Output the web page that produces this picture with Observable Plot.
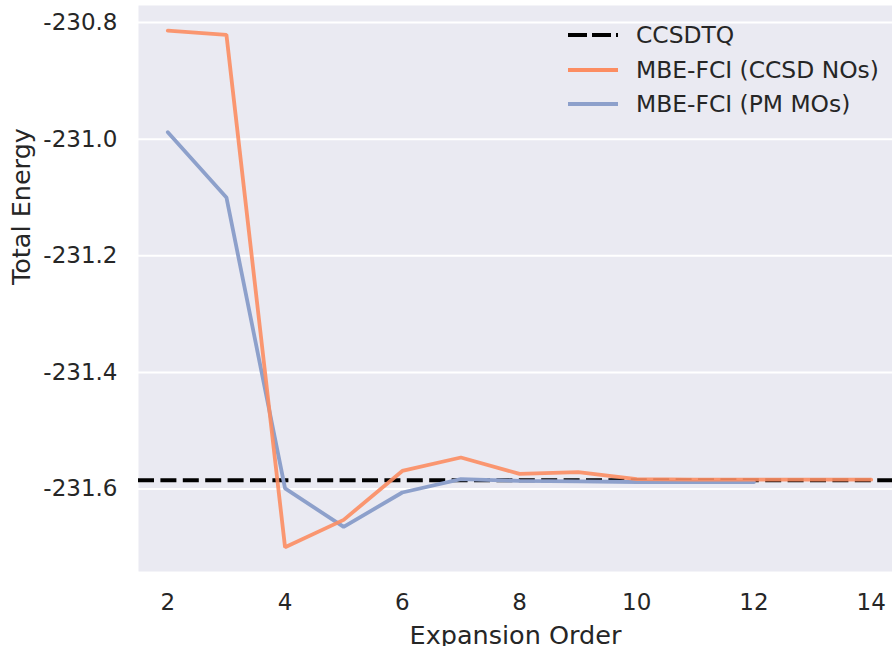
<!DOCTYPE html>
<html>
<head>
<meta charset="utf-8">
<script src="https://cdn.jsdelivr.net/npm/d3@7"></script>
<script src="https://cdn.jsdelivr.net/npm/@observablehq/plot@0.6"></script>
<style>
  html, body { margin: 0; padding: 0; background: #fff; }
  #wrap { position: relative; width: 892px; height: 646px; overflow: hidden; font-family: "DejaVu Sans", sans-serif; }
  #legend { position: absolute; left: 560px; top: 18px; color: #262626; font-size: 23.4px; }
  .row { position: absolute; left: 0; height: 34px; white-space: nowrap; }
  .row svg { position: absolute; left: 6px; top: 0; }
  .row span { position: absolute; left: 76px; top: 2px; line-height: 30px; }
</style>
</head>
<body>
<div id="wrap"></div>
<script>
const orders = [2, 3, 4, 5, 6, 7, 8, 9, 10, 11, 12, 13, 14];
const ccsdNOs = [-230.814, -230.821, -231.700, -231.653, -231.569, -231.546, -231.574, -231.571, -231.583, -231.584, -231.584, -231.584, -231.584];
const pmOrders = [2, 3, 4, 5, 6, 7, 8, 9, 10, 11, 12];
const pmMOs = [-230.988, -231.100, -231.599, -231.665, -231.606, -231.583, -231.586, -231.587, -231.588, -231.588, -231.588];
const ccsdtq = -231.585;
const yTicks = [-230.8, -231.0, -231.2, -231.4, -231.6];
const xTicks = [2, 4, 6, 8, 10, 12, 14];
const xLabel = "Expansion Order";
const yLabel = "Total Energy";

const seriesNames = ["CCSDTQ", "MBE-FCI (CCSD NOs)", "MBE-FCI (PM MOs)"];
const seriesColors = ["#000000", "#FC8D62", "#8DA0CB"];

const nosData = orders.map((o, i) => ({order: o, energy: ccsdNOs[i]}));
const pmData = pmOrders.map((o, i) => ({order: o, energy: pmMOs[i]}));

const chart = Plot.plot({
  width: 892,
  height: 646,
  marginLeft: 138,
  marginRight: 0,
  marginTop: 5,
  marginBottom: 75,
  style: {fontFamily: "DejaVu Sans", fontSize: "23px", color: "#262626", background: "#fff"},
  x: {domain: [1.5, 14.363]},
  y: {domain: [-231.7415, -230.7708]},
  marks: [
    Plot.frame({fill: "#EAEAF2", stroke: null}),
    Plot.ruleY(yTicks, {stroke: "#fff", strokeWidth: 2}),
    Plot.axisX({ticks: xTicks, tickSize: 0, tickPadding: 22, tickFormat: d => String(d), fontSize: 23, label: null, fill: "#262626"}),
    Plot.axisY({ticks: yTicks, tickSize: 0, tickPadding: 21, tickFormat: d => d.toFixed(1), fontSize: 23, label: null, fill: "#262626"}),
    Plot.text([xLabel], {text: d => d, frameAnchor: "bottom", lineAnchor: "middle", dy: 64.4, fontSize: 25.5, fill: "#262626"}),
    Plot.text([yLabel], {text: d => d, frameAnchor: "left", lineAnchor: "middle", rotate: -90, dx: -117, dy: -3.5, fontSize: 25.5, fill: "#262626"}),
    Plot.ruleY([ccsdtq], {stroke: seriesColors[0], strokeWidth: 4, strokeDasharray: "16,6.4"}),
    Plot.line(pmData, {x: "order", y: "energy", stroke: seriesColors[2], strokeWidth: 3.8, strokeLinejoin: "miter"}),
    Plot.line(nosData, {x: "order", y: "energy", stroke: seriesColors[1], strokeWidth: 3.8, strokeOpacity: 0.9, strokeLinejoin: "miter"})
  ]
});

const wrap = document.getElementById("wrap");
wrap.appendChild(chart);

const legend = document.createElement("div");
legend.id = "legend";
seriesNames.forEach((name, i) => {
  const row = document.createElement("div");
  row.className = "row";
  row.style.top = (i * 34.5) + "px";
  const dash = i === 0 ? 'stroke-dasharray="19,5"' : '';
  row.innerHTML = `<svg width="60" height="34"><line x1="2" y1="17" x2="52" y2="17" stroke="${seriesColors[i]}" stroke-width="${i === 0 ? 4 : 3.8}" ${dash}/></svg><span>${name}</span>`;
  legend.appendChild(row);
});
wrap.appendChild(legend);
</script>
</body>
</html>
